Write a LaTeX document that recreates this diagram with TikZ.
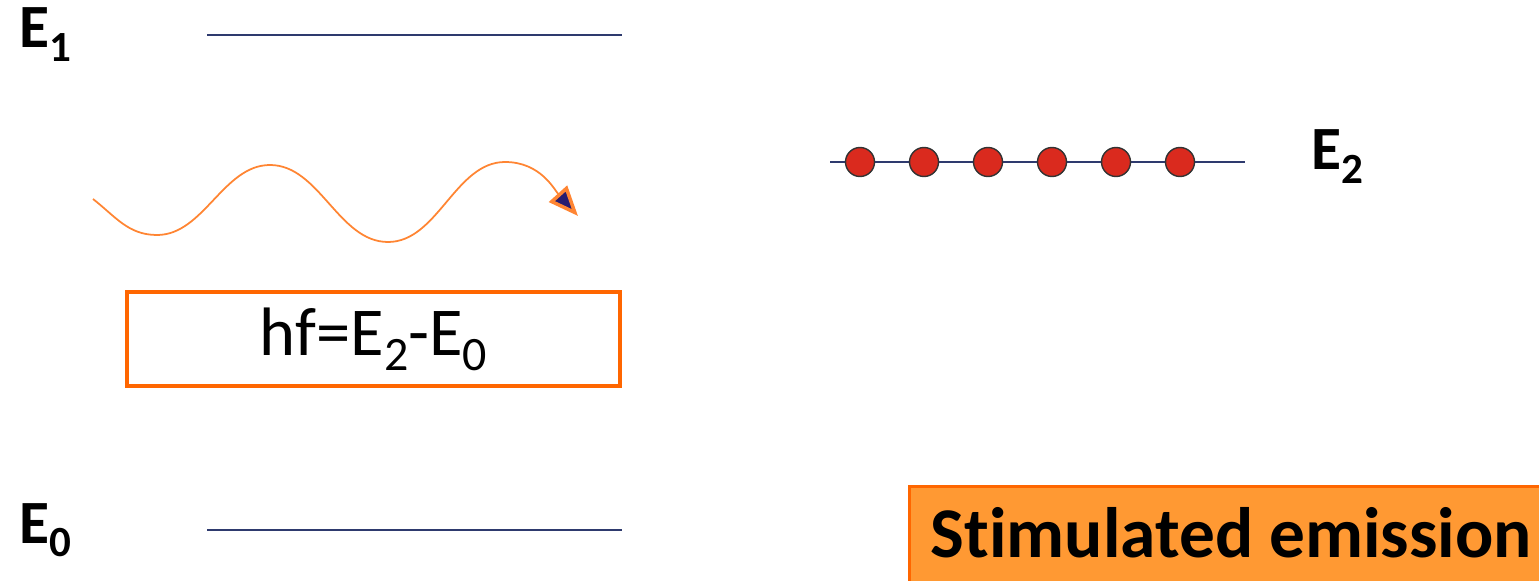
\documentclass[tikz,border=0pt]{standalone}
\usepackage{amsmath}
\usepackage{fontspec}
\setmainfont{Carlito}[Ligatures=NoCommon]
\setsansfont{Carlito}[Ligatures=NoCommon]
\usetikzlibrary{arrows.meta}
\definecolor{levelblue}{HTML}{2E3A6E}
\definecolor{framebrown}{HTML}{FF6600}
\definecolor{labelfill}{HTML}{FF9933}
\definecolor{atomred}{HTML}{DA2A1E}
\definecolor{tipblue}{HTML}{261C70}
\newcommand{\lvsub}[1]{\raisebox{-0.22em}{$\scriptstyle\text{#1}$}}

\begin{document}
\begin{tikzpicture}[every node/.style={font=\sffamily},
  level/.style={draw=levelblue,line width=0.7pt},
  lvl/.style={anchor=base west,inner sep=0pt,font=\sffamily\bfseries\fontsize{17.5}{20}\selectfont},
  atom/.style={circle,draw=black!80,line width=0.4pt,fill=atomred,minimum size=0.29cm,inner sep=0pt},
  wave/.style={draw=framebrown!80,line width=0.5pt},
  box/.style={draw=framebrown,line width=1.1pt,minimum width=4.93cm,minimum height=0.94cm,inner sep=0pt,font=\sffamily\fontsize{19.5}{23}\selectfont}]
\useasboundingbox (0,0) rectangle (15.39,5.80);
% energy levels
\draw[level] (2.07,5.45) -- (6.22,5.45);
\draw[level] (2.07,0.50) -- (6.22,0.50);
\draw[level] (8.30,4.18) -- (12.45,4.18);
\node[lvl] (e1) at (0.19,5.32){E\lvsub{1}};
\node[lvl] (e0) at (0.19,0.37){E\lvsub{0}};
\node[lvl] (e2) at (13.11,4.10){E\lvsub{2}};
% atoms in the upper state
\foreach \i in {0,...,5}
  \node[atom] (a\i) at (8.60+0.64*\i,4.18){};
% incoming photon
\coordinate (w0) at (0.93,3.81);
\coordinate (w1) at (1.57,3.45);
\coordinate (w2) at (2.70,4.15);
\coordinate (w3) at (3.88,3.38);
\coordinate (w4) at (5.05,4.18);
\coordinate (w5) at (5.78,3.64);
\draw[wave,-{Triangle[length=0.3cm,width=0.24cm,fill=tipblue,line width=1pt]}]
  (w0) to[out=-38,in=180] (w1) to[out=0,in=180,looseness=0.9] (w2)
  to[out=0,in=180,looseness=0.9] (w3) to[out=0,in=180,looseness=0.9] (w4)
  to[out=0,in=132] (w5);
\node[box] (hf) at (3.735,2.41){hf=E\lvsub{2}-E\lvsub{0}};
\node[draw=framebrown,line width=0.8pt,fill=labelfill,anchor=north west,minimum width=6.5cm,minimum height=1.2cm,inner sep=0pt] (tag) at (9.08,0.95){};
\node[anchor=base west,inner sep=0pt,font=\sffamily\bfseries\fontsize{20.3}{24}\selectfont] (title) at (9.30,0.23){Stimulated emission};
\end{tikzpicture}
\end{document}
